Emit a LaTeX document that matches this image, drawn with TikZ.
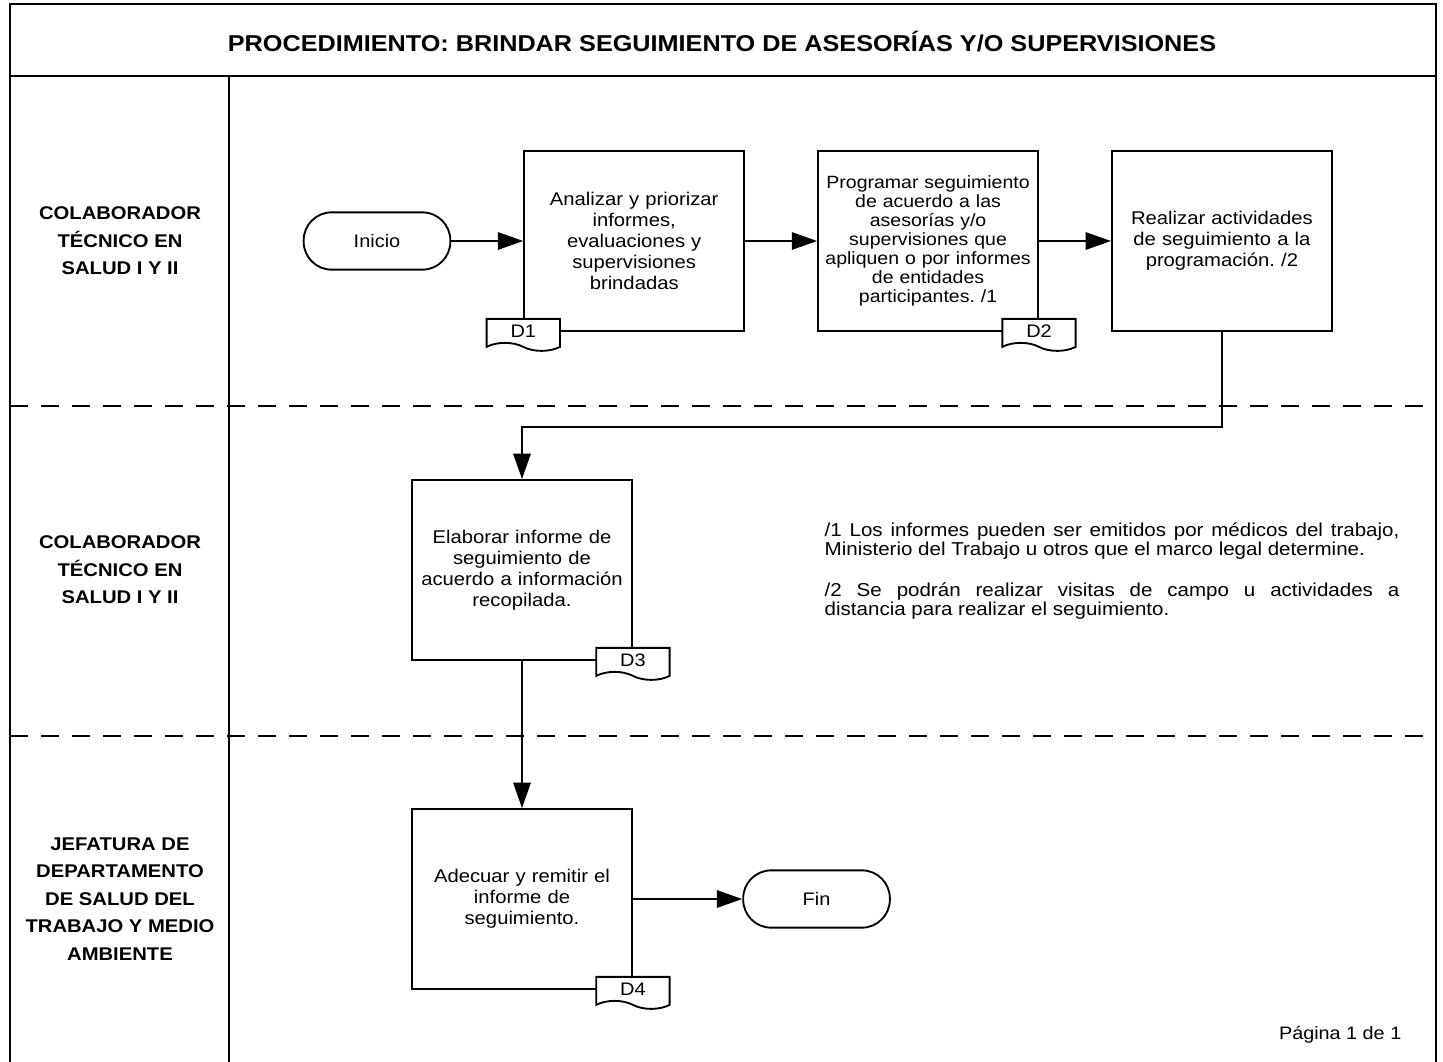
\documentclass[tikz,border=0pt]{standalone}
\usepackage{fontspec}
\setmainfont{Liberation Sans}[FakeStretch=1.1]
\usetikzlibrary{arrows.meta,positioning,shapes.symbols}
\setlength{\parindent}{0pt}
\frenchspacing

\begin{document}
\begin{tikzpicture}[x=0.75pt,y=-0.75pt,node distance=54pt,>={Triangle[length=19pt,width=13pt]},every node/.append style={align=center},
  act/.style={draw,line width=1.4pt,fill=white,minimum width=165pt,minimum height=135pt,inner sep=2pt,text width=160pt,font=\fontsize{13.8}{15.75}\selectfont},
  term/.style={draw,line width=1.4pt,rounded corners=21pt,minimum width=110pt,minimum height=43pt,font=\fontsize{13.6}{16}\selectfont},
  doc/.style={tape,draw,line width=1.4pt,fill=white,tape bend top=none,tape bend bottom=out and in,tape bend height=6pt,minimum width=55pt,minimum height=24pt,inner sep=1pt,font=\fontsize{13.6}{16}\selectfont},
  lane/.style={font=\bfseries\fontsize{13.8}{20.6}\selectfont},
  flow/.style={->,line width=1.4pt},
  sep/.style={line width=1.6pt,dash pattern=on 13.5pt off 9.75pt}]
    \useasboundingbox (0,0) rectangle (1443,1061);
    % marco y carriles
    \draw[line width=1.8pt] (10,1075) -- (10,4) -- (1436,4) -- (1436,1075);
    \draw[line width=1.8pt] (10,76) -- (1436,76);
    \draw[line width=1.8pt] (229,76) -- (229,1075);
    \draw[sep] (10,406) -- (1436,406);
    \draw[sep] (10,736) -- (1436,736);
    \node [font=\bfseries\fontsize{17.2}{20}\selectfont] (titulo) at (722,42) {PROCEDIMIENTO: BRINDAR SEGUIMIENTO DE ASESORÍAS Y/O SUPERVISIONES};
    \node [lane] (colab1) at (120,241) {COLABORADOR\\TÉCNICO EN\\SALUD I Y II};
    \node [lane] (colab2) at (120,570) {COLABORADOR\\TÉCNICO EN\\SALUD I Y II};
    \node [lane] (jefatura) at (120,899) {JEFATURA DE\\DEPARTAMENTO\\DE SALUD DEL\\TRABAJO Y MEDIO\\AMBIENTE};
    % actividades
    \node [term] (inicio) at (377,241) {Inicio};
    \node [act, right=of inicio] (analizar) {Analizar y priorizar\\informes,\\evaluaciones y\\supervisiones\\brindadas};
    \node [act, right=of analizar, font=\fontsize{13.3}{14.3}\selectfont] (programar) {Programar seguimiento\\de acuerdo a las\\asesorías y/o\\supervisiones que\\apliquen o por informes\\de entidades\\participantes. /1};
    \node [act, right=of programar] (realizar) {Realizar actividades\\de seguimiento a la\\programación. /2};
    \node [act] (elaborar) at (522,570) {Elaborar informe de\\seguimiento de\\acuerdo a información\\recopilada.};
    \node [act] (adecuar) at (522,899) {Adecuar y remitir el\\informe de\\seguimiento.};
    \node [term, right=82pt of adecuar] (fin) {Fin};
    \node [doc, anchor=north] (d1) at ([yshift=10.5pt]analizar.south west) {D1};
    \node [doc, anchor=north] (d2) at ([yshift=10.5pt]programar.south east) {D2};
    \node [doc, anchor=north] (d3) at ([yshift=10.5pt]elaborar.south east) {D3};
    \node [doc, anchor=north] (d4) at ([yshift=10.5pt]adecuar.south east) {D4};
    \draw[flow] (inicio) -- (analizar);
    \draw[flow] (analizar) -- (programar);
    \draw[flow] (programar) -- (realizar);
    \draw[flow] (realizar.south) -- ++(0,-71.25pt) -| (elaborar.north);
    \draw[flow] (elaborar.south) -- (adecuar.north);
    \draw[flow] (adecuar) -- (fin);
    % notas
    \node [anchor=north west, text width=431pt, align=justify, font=\fontsize{14}{14.2}\selectfont] (notas) at (820,518) {/1 Los informes pueden ser emitidos por médicos del trabajo,\linebreak Ministerio del Trabajo u otros que el marco legal determine.\par\vspace{17pt}/2 Se podrán realizar visitas de campo u actividades a\linebreak distancia para realizar el seguimiento.};
    \node [anchor=east, font=\fontsize{13.5}{15}\selectfont] (pagina) at (1406,1035) {Página 1 de 1};
\end{tikzpicture}
\end{document}
